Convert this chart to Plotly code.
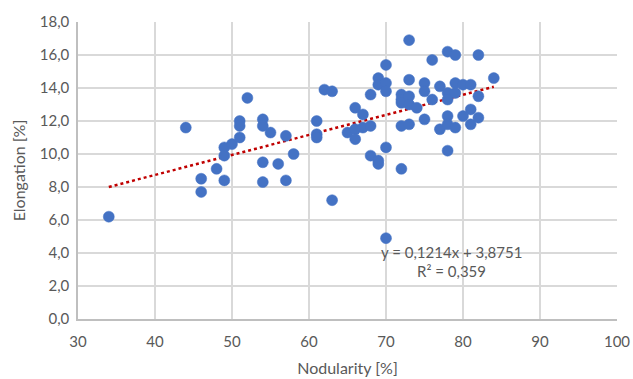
import plotly.graph_objects as go

nodularity = [34, 44, 46, 46, 48, 49, 49, 49, 50, 51, 51, 51, 52, 54, 54, 54, 54, 55, 56, 57,
              57, 58, 61, 61, 61, 62, 63, 63, 65, 66, 66, 66, 67, 67, 68, 68, 68, 69, 69, 69,
              69, 70, 70, 70, 70, 70, 72, 72, 72, 72, 72, 73, 73, 73, 73, 73, 74, 75, 75, 75,
              76, 76, 77, 77, 78, 78, 78, 78, 78, 78, 79, 79, 79, 79, 80, 80, 81, 81, 81, 82,
              82, 82, 84]
elongation = [6.2, 11.6, 8.5, 7.7, 9.1, 10.4, 9.9, 8.4, 10.6, 12.0, 11.7, 11.0, 13.4, 12.1, 11.7, 9.5, 8.3, 11.3, 9.4, 11.1,
              8.4, 10.0, 12.0, 11.2, 11.0, 13.9, 13.8, 7.2, 11.3, 12.8, 11.5, 10.9, 12.4, 11.6, 13.6, 11.7, 9.9, 14.6, 14.2, 9.6,
              9.4, 15.4, 14.3, 13.8, 10.4, 4.9, 13.6, 13.3, 13.1, 11.7, 9.1, 16.9, 14.5, 13.5, 13.0, 11.8, 12.8, 14.3, 13.8, 12.1,
              15.7, 13.3, 14.1, 11.5, 16.2, 13.7, 13.3, 12.3, 11.8, 10.2, 16.0, 14.3, 13.7, 11.6, 14.2, 12.3, 14.2, 12.7, 11.8, 16.0,
              13.5, 12.2, 14.6]

slope = 0.1214
intercept = 3.8751
r_squared = 0.359

x_ticks = [30, 40, 50, 60, 70, 80, 90, 100]
y_ticks = [0, 2, 4, 6, 8, 10, 12, 14, 16, 18]

FONT = "Lato"
TXT = "#595959"

trend_x = [min(nodularity), max(nodularity)]
trend_y = [slope * v + intercept for v in trend_x]

fig = go.Figure()
fig.add_trace(go.Scatter(
    x=trend_x, y=trend_y, mode="lines",
    line=dict(color="#C00000", width=2.5, dash="dot"),
    hoverinfo="skip", showlegend=False))
fig.add_trace(go.Scatter(
    x=nodularity, y=elongation, mode="markers",
    marker=dict(color="#4472C4", size=11, line=dict(color="#4472C4", width=0.5)),
    showlegend=False))

def fmt(v):
    return f"{v}".replace(".", ",")

fig.add_annotation(x=78.45, y=4.09, xref="x", yref="y", showarrow=False,
                   text=f"y = {fmt(slope)}x + {fmt(intercept)}",
                   font=dict(family=FONT, size=15, color=TXT))
fig.add_annotation(x=78.45, y=2.88, xref="x", yref="y", showarrow=False,
                   text=f"R² = {fmt(r_squared)}",
                   font=dict(family=FONT, size=15, color=TXT))

fig.update_layout(
    width=633, height=379,
    margin=dict(l=78, r=16, t=22, b=60),
    paper_bgcolor="white", plot_bgcolor="white",
    separators=",.",
    font=dict(family=FONT, size=15, color=TXT),
)
fig.update_xaxes(
    range=[30, 100], tickvals=x_ticks, tickformat="d",
    showgrid=True, gridcolor="#D9D9D9", gridwidth=1.5,
    showline=True, linecolor="#BFBFBF", linewidth=1.5,
    ticks="outside", ticklen=8, tickcolor="rgba(0,0,0,0)",
    zeroline=False, mirror=False, automargin=False,
    title=dict(text="Nodularity [%]", font=dict(family=FONT, size=16, color=TXT), standoff=14),
)
fig.update_yaxes(
    range=[0, 18], tickvals=y_ticks, tickformat=".1f",
    showgrid=True, gridcolor="#D9D9D9", gridwidth=1.5,
    showline=True, linecolor="#BFBFBF", linewidth=1.5,
    ticks="outside", ticklen=4, tickcolor="rgba(0,0,0,0)",
    zeroline=False, automargin=False,
    title=dict(text="Elongation [%]", font=dict(family=FONT, size=16, color=TXT), standoff=10),
)

fig.write_html("out.html")
